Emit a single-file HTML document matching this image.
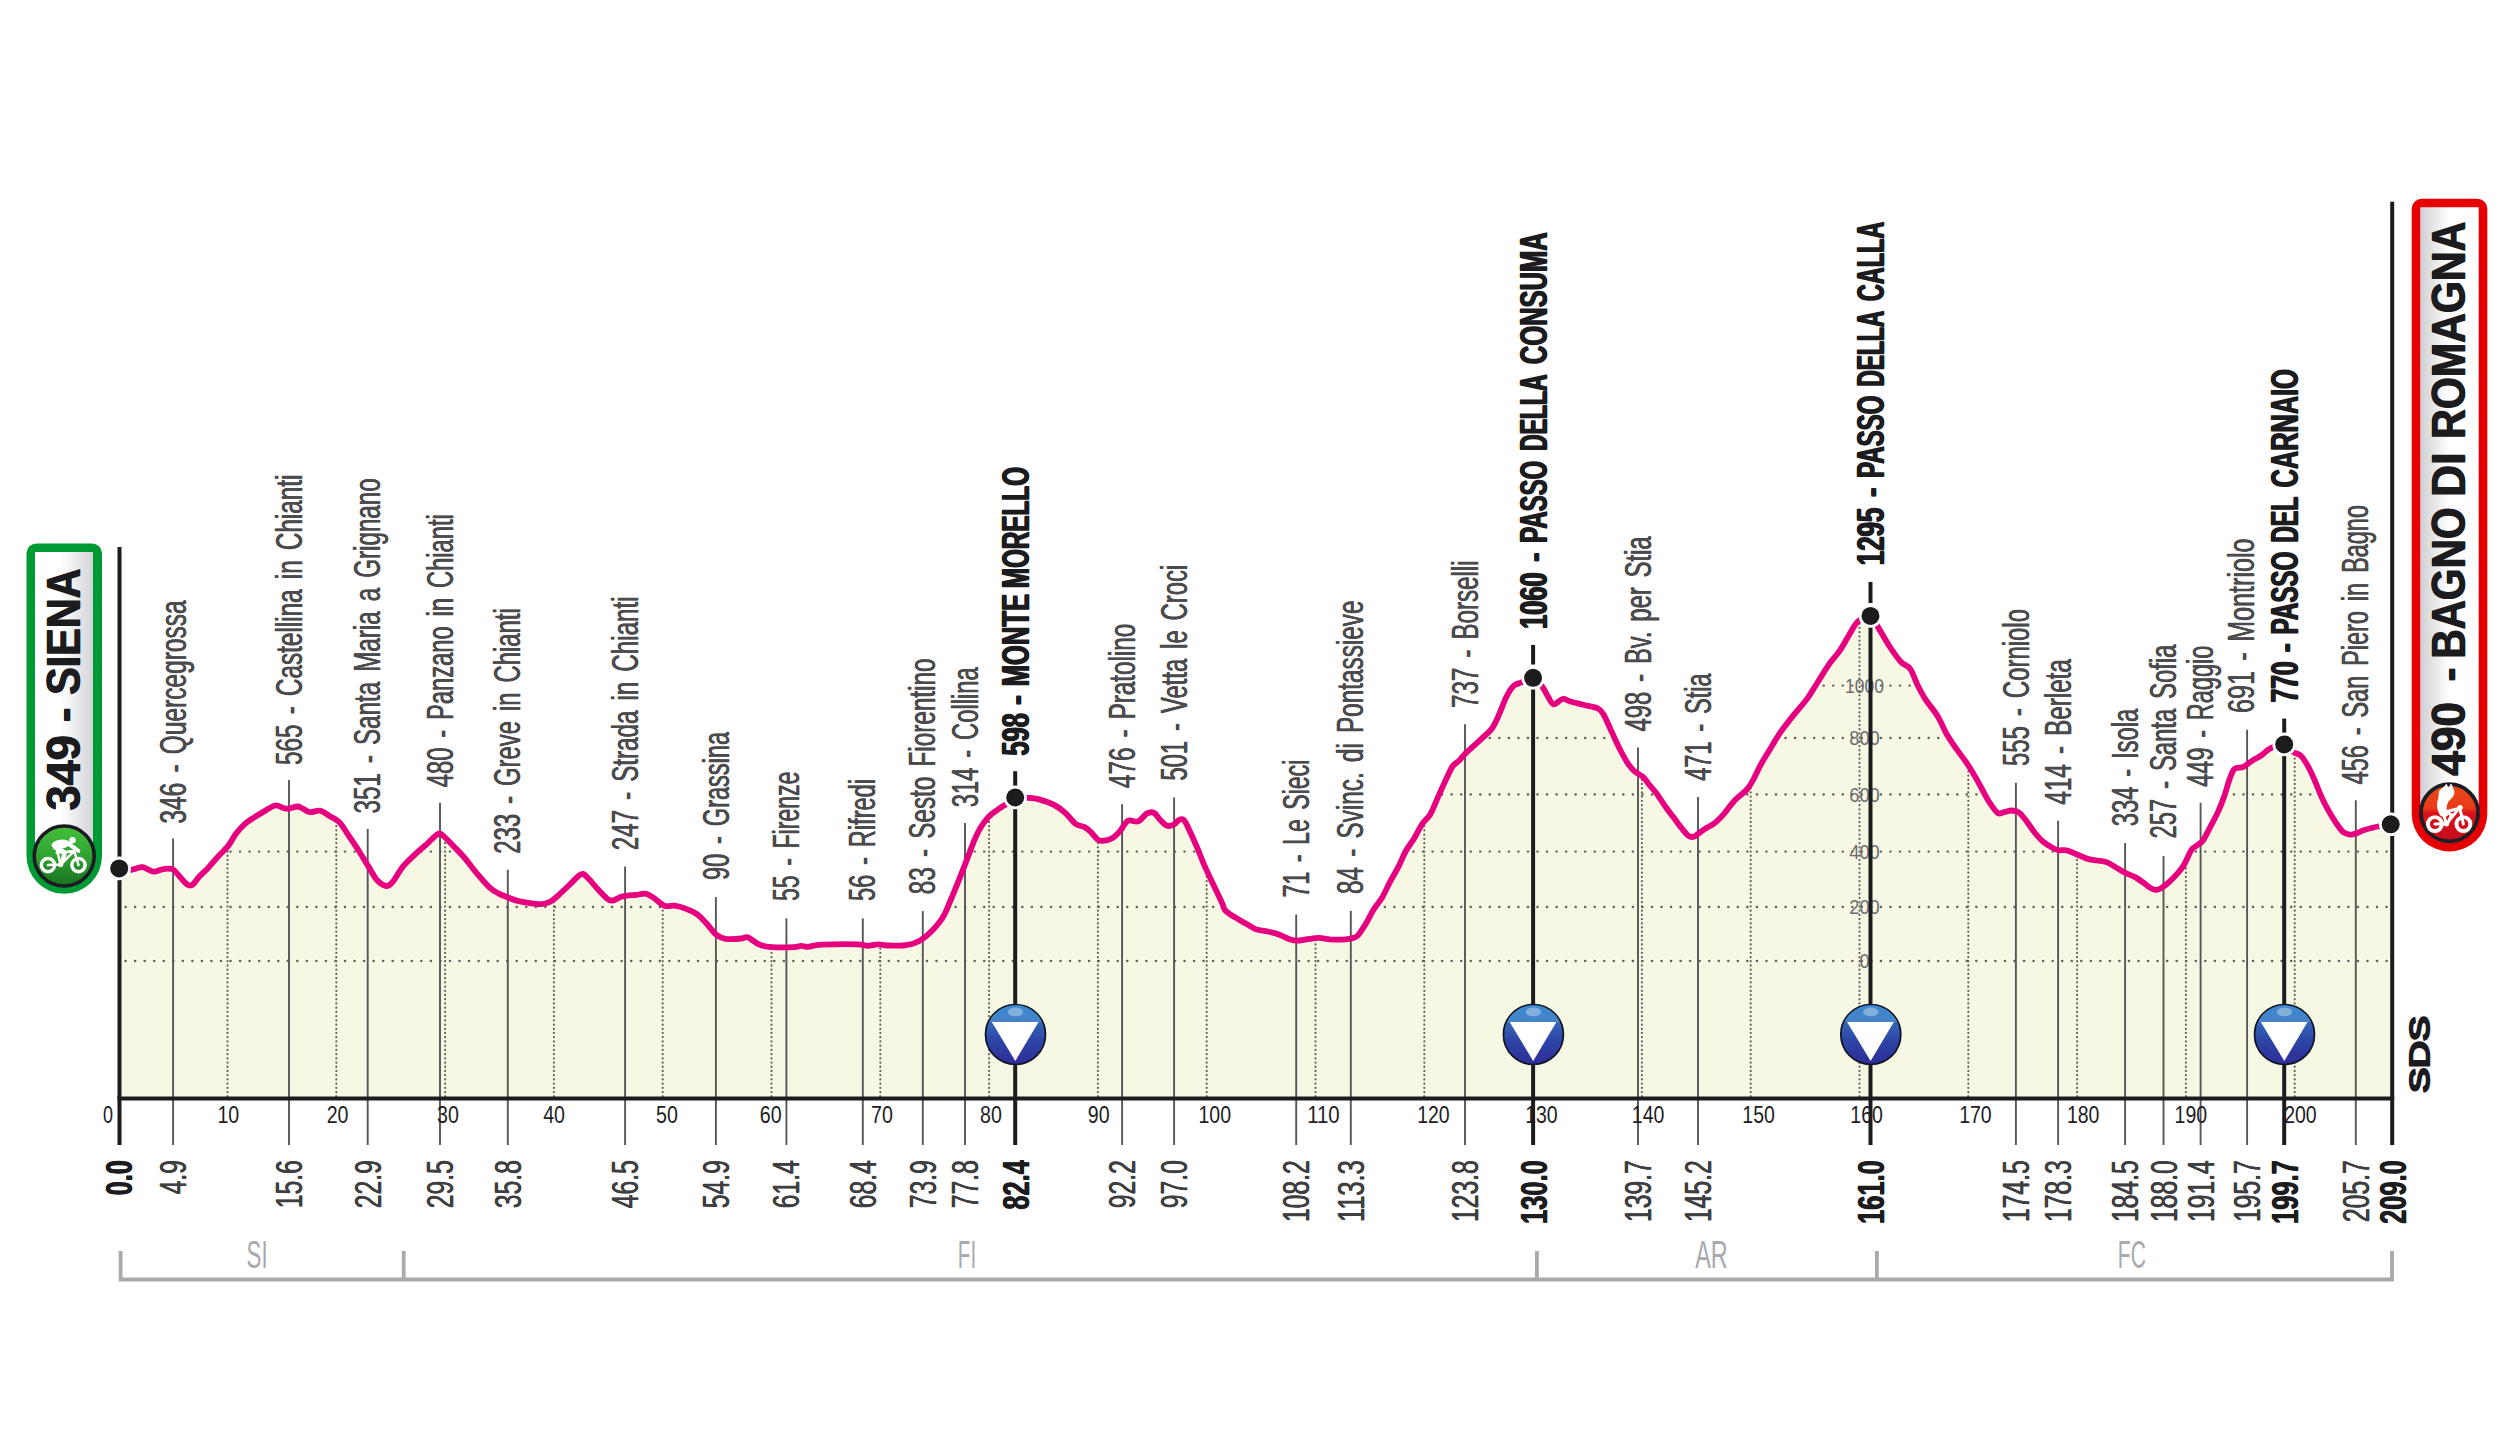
<!DOCTYPE html>
<html lang="it"><head><meta charset="utf-8"><title>Siena - Bagno di Romagna</title>
<style>html,body{margin:0;padding:0;background:#fff}svg{display:block}</style></head>
<body>
<svg width="2513" height="1436" viewBox="0 0 2513 1436" font-family="&quot;Liberation Sans&quot;, sans-serif">
<defs>
<linearGradient id="gL" x1="0" y1="0" x2="1" y2="0"><stop offset="0" stop-color="#fff"/><stop offset=".45" stop-color="#fff"/><stop offset="1" stop-color="#d3d4d9"/></linearGradient>
<linearGradient id="gR" x1="0" y1="0" x2="1" y2="0"><stop offset="0" stop-color="#cfd0d3"/><stop offset=".5" stop-color="#fff"/><stop offset="1" stop-color="#fff"/></linearGradient>
<linearGradient id="gG" x1="0" y1="0" x2="0" y2="1"><stop offset="0" stop-color="#45bf3c"/><stop offset=".5" stop-color="#2fa332"/><stop offset="1" stop-color="#17701f"/></linearGradient>
<linearGradient id="gRd" x1="0" y1="0" x2="0" y2="1"><stop offset="0" stop-color="#ec4818"/><stop offset=".42" stop-color="#e83a17"/><stop offset=".5" stop-color="#da1219"/><stop offset="1" stop-color="#c50d1c"/></linearGradient>
<linearGradient id="gB" x1="0" y1="0" x2="0" y2="1"><stop offset="0" stop-color="#3a7cc6"/><stop offset=".3" stop-color="#3467b8"/><stop offset=".6" stop-color="#2d45a6"/><stop offset="1" stop-color="#2e2c98"/></linearGradient>
<linearGradient id="gBt" x1="0" y1="0" x2="0" y2="1"><stop offset="0" stop-color="#3b88cf"/><stop offset="1" stop-color="#4583c8"/></linearGradient>
<clipPath id="cp"><path d="M119.5,868.4C121.4,868.6 127.2,870.0 131.0,869.8C134.8,869.6 138.8,866.9 142.5,867.2C146.2,867.5 149.8,871.4 153.3,871.7C156.8,872.0 160.3,869.5 163.5,869.1C166.7,868.7 169.8,868.0 172.4,869.1C175.0,870.2 176.5,873.0 178.8,875.5C181.1,878.0 184.2,882.2 186.4,883.8C188.6,885.4 190.0,886.3 192.1,885.1C194.2,883.9 196.4,879.7 199.1,876.8C201.8,873.9 204.9,871.3 208.1,867.9C211.3,864.5 214.8,860.1 218.2,856.4C221.6,852.7 225.4,849.4 228.4,845.6C231.4,841.8 233.3,837.1 236.1,833.5C238.9,829.9 242.0,826.5 245.0,823.9C248.0,821.2 250.5,819.8 253.9,817.6C257.3,815.4 261.8,812.6 265.4,810.6C269.0,808.6 272.5,805.9 275.5,805.5C278.5,805.1 281.0,807.5 283.2,808.0C285.4,808.5 286.6,809.0 288.9,808.7C291.2,808.5 295.0,806.6 297.2,806.5C299.4,806.4 300.2,807.4 302.3,808.3C304.4,809.2 306.9,811.7 309.9,812.1C312.9,812.5 316.9,810.0 320.1,810.6C323.3,811.2 325.8,813.8 329.0,815.7C332.2,817.6 336.0,818.8 339.2,822.0C342.4,825.2 344.9,830.1 348.1,834.8C351.3,839.5 354.9,844.7 358.3,850.0C361.7,855.3 365.3,861.5 368.5,866.6C371.7,871.7 374.4,877.4 377.4,880.6C380.4,883.8 383.8,885.8 386.3,886.0C388.9,886.2 389.9,885.1 392.7,881.9C395.5,878.7 399.1,871.3 402.9,866.6C406.7,861.9 411.5,857.8 415.6,853.9C419.7,850.0 424.0,846.5 427.6,843.3C431.2,840.0 434.8,835.8 437.2,834.4C439.6,833.0 439.6,833.1 442.3,835.0C445.0,836.9 449.4,842.0 453.1,845.8C456.8,849.6 460.6,853.2 464.6,857.9C468.6,862.6 473.1,868.9 477.3,873.9C481.5,878.9 486.4,884.6 490.0,887.9C493.6,891.2 495.9,892.0 498.9,893.6C501.9,895.2 504.9,896.2 507.9,897.4C510.9,898.6 513.4,899.7 516.8,900.6C520.2,901.5 524.2,902.3 528.2,902.9C532.2,903.5 537.4,904.4 541.0,904.2C544.6,904.0 547.1,903.2 549.9,901.9C552.6,900.5 554.1,899.1 557.5,896.1C560.9,893.1 566.9,887.3 570.3,884.0C573.7,880.7 575.8,878.1 577.9,876.4C580.0,874.7 581.1,873.4 583.0,873.9C584.9,874.4 586.9,877.0 589.4,879.6C591.9,882.2 595.3,886.6 598.3,889.8C601.3,893.0 604.9,896.9 607.2,898.7C609.5,900.5 610.0,900.9 612.3,900.6C614.6,900.3 618.5,897.7 621.2,896.8C624.0,895.9 626.2,895.6 628.8,895.3C631.3,895.0 633.7,895.2 636.5,894.9C639.3,894.6 642.6,893.2 645.4,893.6C648.1,894.0 649.8,895.4 653.0,897.4C656.2,899.4 660.9,904.3 664.5,905.7C668.1,907.1 671.1,905.2 674.7,905.7C678.3,906.2 682.3,907.4 686.1,908.9C689.9,910.4 694.2,912.2 697.6,914.6C701.0,917.0 703.3,920.1 706.5,923.5C709.7,926.9 713.5,932.5 716.7,935.0C719.9,937.5 721.5,938.2 725.6,938.8C729.7,939.4 737.8,938.8 741.5,938.5C745.2,938.2 744.8,936.3 747.8,937.3C750.8,938.3 755.3,942.9 759.3,944.5C763.3,946.1 766.3,946.7 772.0,947.1C777.7,947.5 788.8,947.3 793.7,947.1C798.6,946.9 799.0,945.8 801.3,945.8C803.6,945.8 804.3,947.0 807.7,946.8C811.1,946.6 813.4,945.1 821.7,944.7C830.0,944.3 849.7,944.1 857.3,944.3C864.9,944.5 864.1,945.8 867.5,945.8C870.9,945.8 874.3,944.3 877.7,944.3C881.1,944.2 883.6,945.3 887.9,945.5C892.1,945.7 899.0,945.8 903.2,945.5C907.5,945.2 910.2,944.6 913.4,943.6C916.6,942.6 919.1,941.4 922.3,939.2C925.5,937.0 929.1,933.9 932.5,930.3C935.9,926.7 939.7,922.4 942.7,917.5C945.7,912.6 947.5,907.4 950.3,901.0C953.0,894.6 956.2,886.7 959.2,879.3C962.2,871.9 965.6,863.0 968.1,856.4C970.6,849.8 972.4,844.8 974.5,839.9C976.6,835.0 978.6,830.9 980.9,827.1C983.2,823.3 985.8,819.8 988.5,816.9C991.2,814.0 994.6,811.9 997.4,809.9C1000.1,807.9 1002.0,806.8 1005.0,804.8C1008.0,802.8 1011.4,798.8 1015.2,797.6C1019.0,796.4 1024.2,797.5 1028.0,797.8C1031.8,798.0 1033.9,797.9 1038.2,799.1C1042.5,800.3 1049.5,802.5 1054.0,804.8C1058.5,807.1 1061.9,809.9 1065.5,813.1C1069.1,816.3 1072.5,821.6 1075.7,823.9C1078.9,826.2 1082.1,825.7 1084.6,827.1C1087.1,828.5 1088.8,830.2 1090.9,832.2C1093.0,834.2 1095.4,837.8 1097.3,839.2C1099.2,840.7 1099.9,841.1 1102.4,840.9C1105.0,840.7 1109.6,839.6 1112.6,837.9C1115.6,836.2 1117.7,833.8 1120.2,830.9C1122.8,828.0 1124.9,822.3 1127.9,820.7C1130.9,819.1 1134.9,822.6 1138.1,821.4C1141.3,820.2 1144.3,814.8 1147.0,813.4C1149.7,812.0 1151.7,811.7 1154.0,812.9C1156.3,814.1 1158.8,818.6 1161.0,820.7C1163.2,822.9 1165.2,825.1 1167.3,825.8C1169.4,826.4 1171.8,825.5 1173.7,824.6C1175.6,823.7 1177.1,820.9 1178.8,820.1C1180.5,819.4 1182.0,818.1 1183.9,820.1C1185.8,822.1 1188.0,827.3 1190.3,832.2C1192.6,837.1 1195.4,843.5 1197.9,849.4C1200.4,855.3 1202.7,861.6 1205.5,867.9C1208.3,874.2 1211.7,881.2 1214.5,887.0C1217.3,892.8 1220.2,898.9 1222.1,902.9C1224.0,906.9 1223.1,908.5 1225.9,911.2C1228.7,914.0 1234.9,917.1 1238.7,919.4C1242.5,921.7 1245.8,923.5 1248.8,925.2C1251.8,926.9 1253.3,928.6 1256.5,929.6C1259.7,930.6 1264.1,930.6 1267.9,931.5C1271.7,932.4 1275.8,933.4 1279.4,934.7C1283.0,936.0 1286.6,938.2 1289.6,939.2C1292.6,940.2 1294.2,940.7 1297.2,940.7C1300.2,940.7 1303.8,939.7 1307.4,939.2C1311.0,938.7 1315.1,937.9 1318.9,937.9C1322.7,937.9 1325.8,939.1 1330.3,939.4C1334.8,939.6 1342.0,939.6 1345.6,939.4C1349.2,939.2 1349.9,939.0 1352.0,938.3C1354.1,937.6 1355.7,937.9 1358.0,935.4C1360.3,932.9 1363.3,927.8 1366.0,923.4C1368.7,919.0 1371.3,913.3 1374.0,909.0C1376.7,904.7 1379.3,902.3 1382.0,897.8C1384.7,893.3 1387.3,886.9 1390.0,881.8C1392.7,876.7 1395.4,872.6 1398.1,867.4C1400.8,862.2 1403.4,855.3 1406.1,850.5C1408.8,845.7 1411.4,842.9 1414.1,838.5C1416.8,834.1 1419.4,828.1 1422.1,824.1C1424.8,820.1 1427.4,819.0 1430.1,814.5C1432.8,810.0 1435.4,802.8 1438.1,796.9C1440.8,791.0 1443.7,784.4 1446.1,779.3C1448.5,774.2 1450.4,769.6 1452.5,766.5C1454.6,763.4 1456.8,762.9 1458.9,760.8C1461.0,758.6 1462.6,756.3 1465.3,753.6C1468.0,750.9 1472.3,747.2 1474.9,744.8C1477.5,742.4 1478.2,741.9 1481.1,739.1C1484.0,736.3 1489.3,732.2 1492.3,728.0C1495.3,723.8 1496.9,719.2 1499.2,714.1C1501.5,709.0 1503.9,701.9 1506.2,697.3C1508.5,692.6 1510.7,688.7 1513.2,686.2C1515.8,683.7 1518.2,683.7 1521.5,682.3C1524.8,680.9 1529.6,676.9 1533.1,677.7C1536.6,678.5 1539.9,683.7 1542.4,686.9C1544.9,690.1 1546.1,693.8 1548.0,696.7C1549.9,699.6 1551.2,703.9 1553.6,704.3C1556.0,704.7 1559.8,699.5 1562.6,699.0C1565.4,698.5 1566.7,700.5 1570.3,701.5C1573.9,702.5 1579.6,703.8 1584.2,705.0C1588.8,706.2 1594.8,706.9 1598.1,708.5C1601.3,710.1 1601.6,711.3 1603.7,714.8C1605.8,718.3 1608.0,723.9 1610.6,729.4C1613.1,734.9 1616.2,741.9 1619.0,747.5C1621.8,753.1 1624.9,758.8 1627.4,762.8C1630.0,766.8 1631.8,768.9 1634.3,771.2C1636.8,773.5 1640.2,774.4 1642.7,776.7C1645.2,779.0 1647.3,782.3 1649.6,785.1C1651.9,787.9 1654.0,789.9 1656.6,793.4C1659.2,796.9 1662.2,802.0 1665.0,806.0C1667.8,810.0 1670.5,813.4 1673.3,817.1C1676.1,820.8 1679.2,825.2 1681.7,828.3C1684.2,831.4 1686.5,834.5 1688.6,835.9C1690.7,837.3 1691.7,837.6 1694.2,836.6C1696.8,835.6 1700.4,831.9 1703.9,829.6C1707.4,827.3 1711.6,825.5 1715.1,822.7C1718.6,819.9 1721.5,816.6 1724.8,812.9C1728.0,809.2 1730.9,804.3 1734.6,800.4C1738.3,796.5 1743.8,793.0 1747.1,789.3C1750.3,785.6 1751.8,782.3 1754.1,778.1C1756.4,773.9 1758.5,768.8 1761.0,764.2C1763.5,759.6 1766.6,754.9 1769.4,750.3C1772.2,745.6 1775.2,740.2 1777.8,736.3C1780.3,732.3 1782.0,730.2 1784.7,726.6C1787.4,723.0 1790.0,719.6 1793.8,714.9C1797.6,710.1 1803.5,703.7 1807.6,698.1C1811.7,692.5 1814.7,686.8 1818.3,681.2C1821.9,675.6 1825.4,669.4 1829.0,664.3C1832.6,659.2 1836.5,655.5 1839.8,650.6C1843.1,645.8 1845.9,640.1 1848.9,635.2C1852.0,630.3 1854.5,624.6 1858.1,621.4C1861.7,618.2 1866.9,614.4 1870.5,615.8C1874.1,617.2 1876.3,624.6 1879.6,629.9C1882.9,635.2 1886.7,642.1 1890.3,647.5C1893.9,652.9 1897.7,658.4 1901.0,662.0C1904.3,665.6 1907.4,664.9 1910.2,668.9C1913.0,672.9 1915.3,680.7 1917.9,685.8C1920.5,690.9 1922.3,694.5 1925.6,699.6C1928.9,704.7 1934.2,710.5 1937.8,716.4C1941.4,722.3 1943.9,729.4 1947.0,734.8C1950.1,740.2 1952.6,743.5 1956.2,748.6C1959.8,753.7 1964.6,759.6 1968.4,765.5C1972.2,771.4 1975.9,778.0 1979.2,783.9C1982.5,789.8 1985.3,795.9 1988.4,800.7C1991.5,805.5 1995.0,810.9 1997.6,812.8C2000.2,814.7 2001.7,812.5 2004.0,812.1C2006.3,811.7 2009.0,810.4 2011.6,810.5C2014.1,810.6 2016.8,810.9 2019.3,812.8C2021.8,814.7 2024.4,818.4 2026.9,821.7C2029.5,825.0 2031.8,829.1 2034.6,832.5C2037.4,835.9 2040.5,839.6 2043.5,842.1C2046.5,844.6 2049.8,846.4 2052.4,847.8C2055.0,849.2 2056.5,849.9 2058.8,850.3C2061.1,850.7 2063.4,849.6 2066.4,850.3C2069.4,850.9 2073.2,852.8 2076.6,854.2C2080.0,855.6 2083.4,857.6 2086.8,858.6C2090.2,859.6 2093.6,859.9 2097.0,860.5C2100.4,861.1 2103.8,861.1 2107.2,862.4C2110.6,863.7 2114.1,866.4 2117.3,868.2C2120.5,870.0 2123.3,871.8 2126.3,873.3C2129.3,874.8 2132.4,875.6 2135.2,877.1C2137.9,878.6 2140.3,880.4 2142.8,882.2C2145.3,884.0 2148.3,886.6 2150.4,887.9C2152.5,889.2 2153.8,889.7 2155.5,889.8C2157.2,889.9 2158.5,889.7 2160.6,888.5C2162.7,887.3 2165.8,885.0 2168.3,882.8C2170.9,880.6 2173.4,878.1 2175.9,875.2C2178.4,872.3 2181.1,869.8 2183.6,865.6C2186.1,861.5 2189.1,853.6 2191.2,850.3C2193.3,847.0 2194.4,847.5 2196.3,845.9C2198.2,844.3 2200.4,844.0 2202.7,840.8C2205.0,837.6 2207.8,831.6 2210.3,826.8C2212.8,822.0 2215.6,817.2 2217.9,812.1C2220.2,807.0 2222.4,801.6 2224.3,796.2C2226.2,790.8 2227.7,784.3 2229.4,779.7C2231.1,775.1 2232.2,770.9 2234.5,768.8C2236.8,766.7 2240.4,768.3 2243.4,766.9C2246.4,765.5 2249.3,762.5 2252.3,760.6C2255.3,758.7 2258.2,757.5 2261.2,755.5C2264.2,753.5 2266.3,750.4 2270.1,748.5C2273.9,746.6 2280.3,743.7 2284.2,744.3C2288.1,744.9 2290.7,750.4 2293.4,752.2C2296.1,754.0 2298.1,753.3 2300.2,755.1C2302.3,756.9 2303.8,759.0 2306.1,762.9C2308.4,766.8 2311.5,773.1 2313.9,778.5C2316.3,783.9 2318.3,789.7 2320.7,795.1C2323.1,800.5 2325.9,806.0 2328.5,810.7C2331.1,815.4 2333.9,819.7 2336.3,823.3C2338.7,826.9 2340.8,830.2 2343.1,832.1C2345.4,834.0 2347.8,834.4 2349.9,834.6C2352.0,834.9 2353.5,834.3 2355.8,833.6C2358.1,832.9 2360.8,831.2 2363.6,830.2C2366.4,829.2 2369.6,828.4 2372.4,827.7C2375.2,827.0 2377.1,826.7 2380.2,826.1C2383.2,825.5 2388.9,824.6 2390.7,824.3L2392,1098.6L119.5,1098.6Z"/></clipPath>
<clipPath id="kc"><circle r="29.3"/></clipPath>
<g id="kom"><circle r="30" fill="url(#gB)" stroke="#10131f" stroke-width="1.7"/><rect x="-30" y="-30" width="60" height="17.6" fill="url(#gBt)" clip-path="url(#kc)"/><ellipse cx="0" cy="-22.6" rx="7.7" ry="4.4" fill="#8fb6df" opacity=".85"/><polygon points="-23.7,-12.4 23,-12.4 -0.2,26.5" fill="#fff"/></g>
</defs>
<rect width="2513" height="1436" fill="#fff"/>
<path d="M119.5,868.4C121.4,868.6 127.2,870.0 131.0,869.8C134.8,869.6 138.8,866.9 142.5,867.2C146.2,867.5 149.8,871.4 153.3,871.7C156.8,872.0 160.3,869.5 163.5,869.1C166.7,868.7 169.8,868.0 172.4,869.1C175.0,870.2 176.5,873.0 178.8,875.5C181.1,878.0 184.2,882.2 186.4,883.8C188.6,885.4 190.0,886.3 192.1,885.1C194.2,883.9 196.4,879.7 199.1,876.8C201.8,873.9 204.9,871.3 208.1,867.9C211.3,864.5 214.8,860.1 218.2,856.4C221.6,852.7 225.4,849.4 228.4,845.6C231.4,841.8 233.3,837.1 236.1,833.5C238.9,829.9 242.0,826.5 245.0,823.9C248.0,821.2 250.5,819.8 253.9,817.6C257.3,815.4 261.8,812.6 265.4,810.6C269.0,808.6 272.5,805.9 275.5,805.5C278.5,805.1 281.0,807.5 283.2,808.0C285.4,808.5 286.6,809.0 288.9,808.7C291.2,808.5 295.0,806.6 297.2,806.5C299.4,806.4 300.2,807.4 302.3,808.3C304.4,809.2 306.9,811.7 309.9,812.1C312.9,812.5 316.9,810.0 320.1,810.6C323.3,811.2 325.8,813.8 329.0,815.7C332.2,817.6 336.0,818.8 339.2,822.0C342.4,825.2 344.9,830.1 348.1,834.8C351.3,839.5 354.9,844.7 358.3,850.0C361.7,855.3 365.3,861.5 368.5,866.6C371.7,871.7 374.4,877.4 377.4,880.6C380.4,883.8 383.8,885.8 386.3,886.0C388.9,886.2 389.9,885.1 392.7,881.9C395.5,878.7 399.1,871.3 402.9,866.6C406.7,861.9 411.5,857.8 415.6,853.9C419.7,850.0 424.0,846.5 427.6,843.3C431.2,840.0 434.8,835.8 437.2,834.4C439.6,833.0 439.6,833.1 442.3,835.0C445.0,836.9 449.4,842.0 453.1,845.8C456.8,849.6 460.6,853.2 464.6,857.9C468.6,862.6 473.1,868.9 477.3,873.9C481.5,878.9 486.4,884.6 490.0,887.9C493.6,891.2 495.9,892.0 498.9,893.6C501.9,895.2 504.9,896.2 507.9,897.4C510.9,898.6 513.4,899.7 516.8,900.6C520.2,901.5 524.2,902.3 528.2,902.9C532.2,903.5 537.4,904.4 541.0,904.2C544.6,904.0 547.1,903.2 549.9,901.9C552.6,900.5 554.1,899.1 557.5,896.1C560.9,893.1 566.9,887.3 570.3,884.0C573.7,880.7 575.8,878.1 577.9,876.4C580.0,874.7 581.1,873.4 583.0,873.9C584.9,874.4 586.9,877.0 589.4,879.6C591.9,882.2 595.3,886.6 598.3,889.8C601.3,893.0 604.9,896.9 607.2,898.7C609.5,900.5 610.0,900.9 612.3,900.6C614.6,900.3 618.5,897.7 621.2,896.8C624.0,895.9 626.2,895.6 628.8,895.3C631.3,895.0 633.7,895.2 636.5,894.9C639.3,894.6 642.6,893.2 645.4,893.6C648.1,894.0 649.8,895.4 653.0,897.4C656.2,899.4 660.9,904.3 664.5,905.7C668.1,907.1 671.1,905.2 674.7,905.7C678.3,906.2 682.3,907.4 686.1,908.9C689.9,910.4 694.2,912.2 697.6,914.6C701.0,917.0 703.3,920.1 706.5,923.5C709.7,926.9 713.5,932.5 716.7,935.0C719.9,937.5 721.5,938.2 725.6,938.8C729.7,939.4 737.8,938.8 741.5,938.5C745.2,938.2 744.8,936.3 747.8,937.3C750.8,938.3 755.3,942.9 759.3,944.5C763.3,946.1 766.3,946.7 772.0,947.1C777.7,947.5 788.8,947.3 793.7,947.1C798.6,946.9 799.0,945.8 801.3,945.8C803.6,945.8 804.3,947.0 807.7,946.8C811.1,946.6 813.4,945.1 821.7,944.7C830.0,944.3 849.7,944.1 857.3,944.3C864.9,944.5 864.1,945.8 867.5,945.8C870.9,945.8 874.3,944.3 877.7,944.3C881.1,944.2 883.6,945.3 887.9,945.5C892.1,945.7 899.0,945.8 903.2,945.5C907.5,945.2 910.2,944.6 913.4,943.6C916.6,942.6 919.1,941.4 922.3,939.2C925.5,937.0 929.1,933.9 932.5,930.3C935.9,926.7 939.7,922.4 942.7,917.5C945.7,912.6 947.5,907.4 950.3,901.0C953.0,894.6 956.2,886.7 959.2,879.3C962.2,871.9 965.6,863.0 968.1,856.4C970.6,849.8 972.4,844.8 974.5,839.9C976.6,835.0 978.6,830.9 980.9,827.1C983.2,823.3 985.8,819.8 988.5,816.9C991.2,814.0 994.6,811.9 997.4,809.9C1000.1,807.9 1002.0,806.8 1005.0,804.8C1008.0,802.8 1011.4,798.8 1015.2,797.6C1019.0,796.4 1024.2,797.5 1028.0,797.8C1031.8,798.0 1033.9,797.9 1038.2,799.1C1042.5,800.3 1049.5,802.5 1054.0,804.8C1058.5,807.1 1061.9,809.9 1065.5,813.1C1069.1,816.3 1072.5,821.6 1075.7,823.9C1078.9,826.2 1082.1,825.7 1084.6,827.1C1087.1,828.5 1088.8,830.2 1090.9,832.2C1093.0,834.2 1095.4,837.8 1097.3,839.2C1099.2,840.7 1099.9,841.1 1102.4,840.9C1105.0,840.7 1109.6,839.6 1112.6,837.9C1115.6,836.2 1117.7,833.8 1120.2,830.9C1122.8,828.0 1124.9,822.3 1127.9,820.7C1130.9,819.1 1134.9,822.6 1138.1,821.4C1141.3,820.2 1144.3,814.8 1147.0,813.4C1149.7,812.0 1151.7,811.7 1154.0,812.9C1156.3,814.1 1158.8,818.6 1161.0,820.7C1163.2,822.9 1165.2,825.1 1167.3,825.8C1169.4,826.4 1171.8,825.5 1173.7,824.6C1175.6,823.7 1177.1,820.9 1178.8,820.1C1180.5,819.4 1182.0,818.1 1183.9,820.1C1185.8,822.1 1188.0,827.3 1190.3,832.2C1192.6,837.1 1195.4,843.5 1197.9,849.4C1200.4,855.3 1202.7,861.6 1205.5,867.9C1208.3,874.2 1211.7,881.2 1214.5,887.0C1217.3,892.8 1220.2,898.9 1222.1,902.9C1224.0,906.9 1223.1,908.5 1225.9,911.2C1228.7,914.0 1234.9,917.1 1238.7,919.4C1242.5,921.7 1245.8,923.5 1248.8,925.2C1251.8,926.9 1253.3,928.6 1256.5,929.6C1259.7,930.6 1264.1,930.6 1267.9,931.5C1271.7,932.4 1275.8,933.4 1279.4,934.7C1283.0,936.0 1286.6,938.2 1289.6,939.2C1292.6,940.2 1294.2,940.7 1297.2,940.7C1300.2,940.7 1303.8,939.7 1307.4,939.2C1311.0,938.7 1315.1,937.9 1318.9,937.9C1322.7,937.9 1325.8,939.1 1330.3,939.4C1334.8,939.6 1342.0,939.6 1345.6,939.4C1349.2,939.2 1349.9,939.0 1352.0,938.3C1354.1,937.6 1355.7,937.9 1358.0,935.4C1360.3,932.9 1363.3,927.8 1366.0,923.4C1368.7,919.0 1371.3,913.3 1374.0,909.0C1376.7,904.7 1379.3,902.3 1382.0,897.8C1384.7,893.3 1387.3,886.9 1390.0,881.8C1392.7,876.7 1395.4,872.6 1398.1,867.4C1400.8,862.2 1403.4,855.3 1406.1,850.5C1408.8,845.7 1411.4,842.9 1414.1,838.5C1416.8,834.1 1419.4,828.1 1422.1,824.1C1424.8,820.1 1427.4,819.0 1430.1,814.5C1432.8,810.0 1435.4,802.8 1438.1,796.9C1440.8,791.0 1443.7,784.4 1446.1,779.3C1448.5,774.2 1450.4,769.6 1452.5,766.5C1454.6,763.4 1456.8,762.9 1458.9,760.8C1461.0,758.6 1462.6,756.3 1465.3,753.6C1468.0,750.9 1472.3,747.2 1474.9,744.8C1477.5,742.4 1478.2,741.9 1481.1,739.1C1484.0,736.3 1489.3,732.2 1492.3,728.0C1495.3,723.8 1496.9,719.2 1499.2,714.1C1501.5,709.0 1503.9,701.9 1506.2,697.3C1508.5,692.6 1510.7,688.7 1513.2,686.2C1515.8,683.7 1518.2,683.7 1521.5,682.3C1524.8,680.9 1529.6,676.9 1533.1,677.7C1536.6,678.5 1539.9,683.7 1542.4,686.9C1544.9,690.1 1546.1,693.8 1548.0,696.7C1549.9,699.6 1551.2,703.9 1553.6,704.3C1556.0,704.7 1559.8,699.5 1562.6,699.0C1565.4,698.5 1566.7,700.5 1570.3,701.5C1573.9,702.5 1579.6,703.8 1584.2,705.0C1588.8,706.2 1594.8,706.9 1598.1,708.5C1601.3,710.1 1601.6,711.3 1603.7,714.8C1605.8,718.3 1608.0,723.9 1610.6,729.4C1613.1,734.9 1616.2,741.9 1619.0,747.5C1621.8,753.1 1624.9,758.8 1627.4,762.8C1630.0,766.8 1631.8,768.9 1634.3,771.2C1636.8,773.5 1640.2,774.4 1642.7,776.7C1645.2,779.0 1647.3,782.3 1649.6,785.1C1651.9,787.9 1654.0,789.9 1656.6,793.4C1659.2,796.9 1662.2,802.0 1665.0,806.0C1667.8,810.0 1670.5,813.4 1673.3,817.1C1676.1,820.8 1679.2,825.2 1681.7,828.3C1684.2,831.4 1686.5,834.5 1688.6,835.9C1690.7,837.3 1691.7,837.6 1694.2,836.6C1696.8,835.6 1700.4,831.9 1703.9,829.6C1707.4,827.3 1711.6,825.5 1715.1,822.7C1718.6,819.9 1721.5,816.6 1724.8,812.9C1728.0,809.2 1730.9,804.3 1734.6,800.4C1738.3,796.5 1743.8,793.0 1747.1,789.3C1750.3,785.6 1751.8,782.3 1754.1,778.1C1756.4,773.9 1758.5,768.8 1761.0,764.2C1763.5,759.6 1766.6,754.9 1769.4,750.3C1772.2,745.6 1775.2,740.2 1777.8,736.3C1780.3,732.3 1782.0,730.2 1784.7,726.6C1787.4,723.0 1790.0,719.6 1793.8,714.9C1797.6,710.1 1803.5,703.7 1807.6,698.1C1811.7,692.5 1814.7,686.8 1818.3,681.2C1821.9,675.6 1825.4,669.4 1829.0,664.3C1832.6,659.2 1836.5,655.5 1839.8,650.6C1843.1,645.8 1845.9,640.1 1848.9,635.2C1852.0,630.3 1854.5,624.6 1858.1,621.4C1861.7,618.2 1866.9,614.4 1870.5,615.8C1874.1,617.2 1876.3,624.6 1879.6,629.9C1882.9,635.2 1886.7,642.1 1890.3,647.5C1893.9,652.9 1897.7,658.4 1901.0,662.0C1904.3,665.6 1907.4,664.9 1910.2,668.9C1913.0,672.9 1915.3,680.7 1917.9,685.8C1920.5,690.9 1922.3,694.5 1925.6,699.6C1928.9,704.7 1934.2,710.5 1937.8,716.4C1941.4,722.3 1943.9,729.4 1947.0,734.8C1950.1,740.2 1952.6,743.5 1956.2,748.6C1959.8,753.7 1964.6,759.6 1968.4,765.5C1972.2,771.4 1975.9,778.0 1979.2,783.9C1982.5,789.8 1985.3,795.9 1988.4,800.7C1991.5,805.5 1995.0,810.9 1997.6,812.8C2000.2,814.7 2001.7,812.5 2004.0,812.1C2006.3,811.7 2009.0,810.4 2011.6,810.5C2014.1,810.6 2016.8,810.9 2019.3,812.8C2021.8,814.7 2024.4,818.4 2026.9,821.7C2029.5,825.0 2031.8,829.1 2034.6,832.5C2037.4,835.9 2040.5,839.6 2043.5,842.1C2046.5,844.6 2049.8,846.4 2052.4,847.8C2055.0,849.2 2056.5,849.9 2058.8,850.3C2061.1,850.7 2063.4,849.6 2066.4,850.3C2069.4,850.9 2073.2,852.8 2076.6,854.2C2080.0,855.6 2083.4,857.6 2086.8,858.6C2090.2,859.6 2093.6,859.9 2097.0,860.5C2100.4,861.1 2103.8,861.1 2107.2,862.4C2110.6,863.7 2114.1,866.4 2117.3,868.2C2120.5,870.0 2123.3,871.8 2126.3,873.3C2129.3,874.8 2132.4,875.6 2135.2,877.1C2137.9,878.6 2140.3,880.4 2142.8,882.2C2145.3,884.0 2148.3,886.6 2150.4,887.9C2152.5,889.2 2153.8,889.7 2155.5,889.8C2157.2,889.9 2158.5,889.7 2160.6,888.5C2162.7,887.3 2165.8,885.0 2168.3,882.8C2170.9,880.6 2173.4,878.1 2175.9,875.2C2178.4,872.3 2181.1,869.8 2183.6,865.6C2186.1,861.5 2189.1,853.6 2191.2,850.3C2193.3,847.0 2194.4,847.5 2196.3,845.9C2198.2,844.3 2200.4,844.0 2202.7,840.8C2205.0,837.6 2207.8,831.6 2210.3,826.8C2212.8,822.0 2215.6,817.2 2217.9,812.1C2220.2,807.0 2222.4,801.6 2224.3,796.2C2226.2,790.8 2227.7,784.3 2229.4,779.7C2231.1,775.1 2232.2,770.9 2234.5,768.8C2236.8,766.7 2240.4,768.3 2243.4,766.9C2246.4,765.5 2249.3,762.5 2252.3,760.6C2255.3,758.7 2258.2,757.5 2261.2,755.5C2264.2,753.5 2266.3,750.4 2270.1,748.5C2273.9,746.6 2280.3,743.7 2284.2,744.3C2288.1,744.9 2290.7,750.4 2293.4,752.2C2296.1,754.0 2298.1,753.3 2300.2,755.1C2302.3,756.9 2303.8,759.0 2306.1,762.9C2308.4,766.8 2311.5,773.1 2313.9,778.5C2316.3,783.9 2318.3,789.7 2320.7,795.1C2323.1,800.5 2325.9,806.0 2328.5,810.7C2331.1,815.4 2333.9,819.7 2336.3,823.3C2338.7,826.9 2340.8,830.2 2343.1,832.1C2345.4,834.0 2347.8,834.4 2349.9,834.6C2352.0,834.9 2353.5,834.3 2355.8,833.6C2358.1,832.9 2360.8,831.2 2363.6,830.2C2366.4,829.2 2369.6,828.4 2372.4,827.7C2375.2,827.0 2377.1,826.7 2380.2,826.1C2383.2,825.5 2388.9,824.6 2390.7,824.3L2392,1098.6L119.5,1098.6Z" fill="#f7f8e4"/>
<g clip-path="url(#cp)" stroke="#606058" fill="none" stroke-linecap="round">
<line x1="115.9" y1="961" x2="2392" y2="961" stroke-width="2.3" stroke-dasharray="0.3 9.24"/>
<line x1="115.9" y1="907" x2="2392" y2="907" stroke-width="2.3" stroke-dasharray="0.3 9.24"/>
<line x1="115.9" y1="851.6" x2="2392" y2="851.6" stroke-width="2.3" stroke-dasharray="0.3 9.24"/>
<line x1="115.9" y1="794.5" x2="2392" y2="794.5" stroke-width="2.3" stroke-dasharray="0.3 9.24"/>
<line x1="115.9" y1="738" x2="2392" y2="738" stroke-width="2.3" stroke-dasharray="0.3 9.24"/>
<line x1="115.9" y1="685.6" x2="2392" y2="685.6" stroke-width="2.3" stroke-dasharray="0.3 9.24"/>
<line x1="227.5" y1="1096.3999999999999" x2="227.5" y2="560" stroke-width="2.1" stroke-dasharray="0.2 4.02"/>
<line x1="336.3" y1="1096.3999999999999" x2="336.3" y2="560" stroke-width="2.1" stroke-dasharray="0.2 4.02"/>
<line x1="445.1" y1="1096.3999999999999" x2="445.1" y2="560" stroke-width="2.1" stroke-dasharray="0.2 4.02"/>
<line x1="553.9" y1="1096.3999999999999" x2="553.9" y2="560" stroke-width="2.1" stroke-dasharray="0.2 4.02"/>
<line x1="662.7" y1="1096.3999999999999" x2="662.7" y2="560" stroke-width="2.1" stroke-dasharray="0.2 4.02"/>
<line x1="771.5" y1="1096.3999999999999" x2="771.5" y2="560" stroke-width="2.1" stroke-dasharray="0.2 4.02"/>
<line x1="880.3" y1="1096.3999999999999" x2="880.3" y2="560" stroke-width="2.1" stroke-dasharray="0.2 4.02"/>
<line x1="989.1" y1="1096.3999999999999" x2="989.1" y2="560" stroke-width="2.1" stroke-dasharray="0.2 4.02"/>
<line x1="1097.9" y1="1096.3999999999999" x2="1097.9" y2="560" stroke-width="2.1" stroke-dasharray="0.2 4.02"/>
<line x1="1206.7" y1="1096.3999999999999" x2="1206.7" y2="560" stroke-width="2.1" stroke-dasharray="0.2 4.02"/>
<line x1="1315.5" y1="1096.3999999999999" x2="1315.5" y2="560" stroke-width="2.1" stroke-dasharray="0.2 4.02"/>
<line x1="1424.3" y1="1096.3999999999999" x2="1424.3" y2="560" stroke-width="2.1" stroke-dasharray="0.2 4.02"/>
<line x1="1533.1" y1="1096.3999999999999" x2="1533.1" y2="560" stroke-width="2.1" stroke-dasharray="0.2 4.02"/>
<line x1="1641.9" y1="1096.3999999999999" x2="1641.9" y2="560" stroke-width="2.1" stroke-dasharray="0.2 4.02"/>
<line x1="1750.7" y1="1096.3999999999999" x2="1750.7" y2="560" stroke-width="2.1" stroke-dasharray="0.2 4.02"/>
<line x1="1859.5" y1="1096.3999999999999" x2="1859.5" y2="560" stroke-width="2.1" stroke-dasharray="0.2 4.02"/>
<line x1="1968.3" y1="1096.3999999999999" x2="1968.3" y2="560" stroke-width="2.1" stroke-dasharray="0.2 4.02"/>
<line x1="2077.1" y1="1096.3999999999999" x2="2077.1" y2="560" stroke-width="2.1" stroke-dasharray="0.2 4.02"/>
<line x1="2185.9" y1="1096.3999999999999" x2="2185.9" y2="560" stroke-width="2.1" stroke-dasharray="0.2 4.02"/>
<line x1="2294.7" y1="1096.3999999999999" x2="2294.7" y2="560" stroke-width="2.1" stroke-dasharray="0.2 4.02"/>
</g>
<text x="1859.6" y="968.2" font-size="20.4" fill="#6c6c70" textLength="10.0" lengthAdjust="spacingAndGlyphs">0</text>
<text x="1849.3" y="914.2" font-size="20.4" fill="#6c6c70" textLength="30.5" lengthAdjust="spacingAndGlyphs">200</text>
<text x="1849.3" y="858.8" font-size="20.4" fill="#6c6c70" textLength="30.5" lengthAdjust="spacingAndGlyphs">400</text>
<text x="1849.3" y="801.7" font-size="20.4" fill="#6c6c70" textLength="30.5" lengthAdjust="spacingAndGlyphs">600</text>
<text x="1849.3" y="745.2" font-size="20.4" fill="#6c6c70" textLength="30.5" lengthAdjust="spacingAndGlyphs">800</text>
<text x="1845.1" y="692.8" font-size="20.4" fill="#6c6c70" textLength="39" lengthAdjust="spacingAndGlyphs">1000</text>
<g stroke="#565658" stroke-width="1.9">
<line x1="173.1" y1="838.5" x2="173.1" y2="1145"/>
<line x1="289" y1="780.1" x2="289" y2="1145"/>
<line x1="367.7" y1="829.1" x2="367.7" y2="1145"/>
<line x1="440" y1="802.8" x2="440" y2="1145"/>
<line x1="507.8" y1="869.7" x2="507.8" y2="1145"/>
<line x1="625.1" y1="866.4" x2="625.1" y2="1145"/>
<line x1="715.9" y1="897.1" x2="715.9" y2="1145"/>
<line x1="786.4" y1="918.3" x2="786.4" y2="1145"/>
<line x1="862.8" y1="918.3" x2="862.8" y2="1145"/>
<line x1="922.8" y1="911.1" x2="922.8" y2="1145"/>
<line x1="965" y1="822.9" x2="965" y2="1145"/>
<line x1="1122.1" y1="804.2" x2="1122.1" y2="1145"/>
<line x1="1174.1" y1="797.5" x2="1174.1" y2="1145"/>
<line x1="1296.2" y1="914.5" x2="1296.2" y2="1145"/>
<line x1="1350.8" y1="910.8" x2="1350.8" y2="1145"/>
<line x1="1465" y1="724.2" x2="1465" y2="1145"/>
<line x1="1638" y1="747.4" x2="1638" y2="1145"/>
<line x1="1698" y1="797.1" x2="1698" y2="1145"/>
<line x1="2015.9" y1="782.8" x2="2015.9" y2="1145"/>
<line x1="2058.1" y1="820.7" x2="2058.1" y2="1145"/>
<line x1="2125.1" y1="843" x2="2125.1" y2="1145"/>
<line x1="2163.5" y1="855.9" x2="2163.5" y2="1145"/>
<line x1="2200.6" y1="802.8" x2="2200.6" y2="1145"/>
<line x1="2247.1" y1="729.8" x2="2247.1" y2="1145"/>
<line x1="2355.8" y1="800.3" x2="2355.8" y2="1145"/>
</g>
<path d="M119.5,868.4C121.4,868.6 127.2,870.0 131.0,869.8C134.8,869.6 138.8,866.9 142.5,867.2C146.2,867.5 149.8,871.4 153.3,871.7C156.8,872.0 160.3,869.5 163.5,869.1C166.7,868.7 169.8,868.0 172.4,869.1C175.0,870.2 176.5,873.0 178.8,875.5C181.1,878.0 184.2,882.2 186.4,883.8C188.6,885.4 190.0,886.3 192.1,885.1C194.2,883.9 196.4,879.7 199.1,876.8C201.8,873.9 204.9,871.3 208.1,867.9C211.3,864.5 214.8,860.1 218.2,856.4C221.6,852.7 225.4,849.4 228.4,845.6C231.4,841.8 233.3,837.1 236.1,833.5C238.9,829.9 242.0,826.5 245.0,823.9C248.0,821.2 250.5,819.8 253.9,817.6C257.3,815.4 261.8,812.6 265.4,810.6C269.0,808.6 272.5,805.9 275.5,805.5C278.5,805.1 281.0,807.5 283.2,808.0C285.4,808.5 286.6,809.0 288.9,808.7C291.2,808.5 295.0,806.6 297.2,806.5C299.4,806.4 300.2,807.4 302.3,808.3C304.4,809.2 306.9,811.7 309.9,812.1C312.9,812.5 316.9,810.0 320.1,810.6C323.3,811.2 325.8,813.8 329.0,815.7C332.2,817.6 336.0,818.8 339.2,822.0C342.4,825.2 344.9,830.1 348.1,834.8C351.3,839.5 354.9,844.7 358.3,850.0C361.7,855.3 365.3,861.5 368.5,866.6C371.7,871.7 374.4,877.4 377.4,880.6C380.4,883.8 383.8,885.8 386.3,886.0C388.9,886.2 389.9,885.1 392.7,881.9C395.5,878.7 399.1,871.3 402.9,866.6C406.7,861.9 411.5,857.8 415.6,853.9C419.7,850.0 424.0,846.5 427.6,843.3C431.2,840.0 434.8,835.8 437.2,834.4C439.6,833.0 439.6,833.1 442.3,835.0C445.0,836.9 449.4,842.0 453.1,845.8C456.8,849.6 460.6,853.2 464.6,857.9C468.6,862.6 473.1,868.9 477.3,873.9C481.5,878.9 486.4,884.6 490.0,887.9C493.6,891.2 495.9,892.0 498.9,893.6C501.9,895.2 504.9,896.2 507.9,897.4C510.9,898.6 513.4,899.7 516.8,900.6C520.2,901.5 524.2,902.3 528.2,902.9C532.2,903.5 537.4,904.4 541.0,904.2C544.6,904.0 547.1,903.2 549.9,901.9C552.6,900.5 554.1,899.1 557.5,896.1C560.9,893.1 566.9,887.3 570.3,884.0C573.7,880.7 575.8,878.1 577.9,876.4C580.0,874.7 581.1,873.4 583.0,873.9C584.9,874.4 586.9,877.0 589.4,879.6C591.9,882.2 595.3,886.6 598.3,889.8C601.3,893.0 604.9,896.9 607.2,898.7C609.5,900.5 610.0,900.9 612.3,900.6C614.6,900.3 618.5,897.7 621.2,896.8C624.0,895.9 626.2,895.6 628.8,895.3C631.3,895.0 633.7,895.2 636.5,894.9C639.3,894.6 642.6,893.2 645.4,893.6C648.1,894.0 649.8,895.4 653.0,897.4C656.2,899.4 660.9,904.3 664.5,905.7C668.1,907.1 671.1,905.2 674.7,905.7C678.3,906.2 682.3,907.4 686.1,908.9C689.9,910.4 694.2,912.2 697.6,914.6C701.0,917.0 703.3,920.1 706.5,923.5C709.7,926.9 713.5,932.5 716.7,935.0C719.9,937.5 721.5,938.2 725.6,938.8C729.7,939.4 737.8,938.8 741.5,938.5C745.2,938.2 744.8,936.3 747.8,937.3C750.8,938.3 755.3,942.9 759.3,944.5C763.3,946.1 766.3,946.7 772.0,947.1C777.7,947.5 788.8,947.3 793.7,947.1C798.6,946.9 799.0,945.8 801.3,945.8C803.6,945.8 804.3,947.0 807.7,946.8C811.1,946.6 813.4,945.1 821.7,944.7C830.0,944.3 849.7,944.1 857.3,944.3C864.9,944.5 864.1,945.8 867.5,945.8C870.9,945.8 874.3,944.3 877.7,944.3C881.1,944.2 883.6,945.3 887.9,945.5C892.1,945.7 899.0,945.8 903.2,945.5C907.5,945.2 910.2,944.6 913.4,943.6C916.6,942.6 919.1,941.4 922.3,939.2C925.5,937.0 929.1,933.9 932.5,930.3C935.9,926.7 939.7,922.4 942.7,917.5C945.7,912.6 947.5,907.4 950.3,901.0C953.0,894.6 956.2,886.7 959.2,879.3C962.2,871.9 965.6,863.0 968.1,856.4C970.6,849.8 972.4,844.8 974.5,839.9C976.6,835.0 978.6,830.9 980.9,827.1C983.2,823.3 985.8,819.8 988.5,816.9C991.2,814.0 994.6,811.9 997.4,809.9C1000.1,807.9 1002.0,806.8 1005.0,804.8C1008.0,802.8 1011.4,798.8 1015.2,797.6C1019.0,796.4 1024.2,797.5 1028.0,797.8C1031.8,798.0 1033.9,797.9 1038.2,799.1C1042.5,800.3 1049.5,802.5 1054.0,804.8C1058.5,807.1 1061.9,809.9 1065.5,813.1C1069.1,816.3 1072.5,821.6 1075.7,823.9C1078.9,826.2 1082.1,825.7 1084.6,827.1C1087.1,828.5 1088.8,830.2 1090.9,832.2C1093.0,834.2 1095.4,837.8 1097.3,839.2C1099.2,840.7 1099.9,841.1 1102.4,840.9C1105.0,840.7 1109.6,839.6 1112.6,837.9C1115.6,836.2 1117.7,833.8 1120.2,830.9C1122.8,828.0 1124.9,822.3 1127.9,820.7C1130.9,819.1 1134.9,822.6 1138.1,821.4C1141.3,820.2 1144.3,814.8 1147.0,813.4C1149.7,812.0 1151.7,811.7 1154.0,812.9C1156.3,814.1 1158.8,818.6 1161.0,820.7C1163.2,822.9 1165.2,825.1 1167.3,825.8C1169.4,826.4 1171.8,825.5 1173.7,824.6C1175.6,823.7 1177.1,820.9 1178.8,820.1C1180.5,819.4 1182.0,818.1 1183.9,820.1C1185.8,822.1 1188.0,827.3 1190.3,832.2C1192.6,837.1 1195.4,843.5 1197.9,849.4C1200.4,855.3 1202.7,861.6 1205.5,867.9C1208.3,874.2 1211.7,881.2 1214.5,887.0C1217.3,892.8 1220.2,898.9 1222.1,902.9C1224.0,906.9 1223.1,908.5 1225.9,911.2C1228.7,914.0 1234.9,917.1 1238.7,919.4C1242.5,921.7 1245.8,923.5 1248.8,925.2C1251.8,926.9 1253.3,928.6 1256.5,929.6C1259.7,930.6 1264.1,930.6 1267.9,931.5C1271.7,932.4 1275.8,933.4 1279.4,934.7C1283.0,936.0 1286.6,938.2 1289.6,939.2C1292.6,940.2 1294.2,940.7 1297.2,940.7C1300.2,940.7 1303.8,939.7 1307.4,939.2C1311.0,938.7 1315.1,937.9 1318.9,937.9C1322.7,937.9 1325.8,939.1 1330.3,939.4C1334.8,939.6 1342.0,939.6 1345.6,939.4C1349.2,939.2 1349.9,939.0 1352.0,938.3C1354.1,937.6 1355.7,937.9 1358.0,935.4C1360.3,932.9 1363.3,927.8 1366.0,923.4C1368.7,919.0 1371.3,913.3 1374.0,909.0C1376.7,904.7 1379.3,902.3 1382.0,897.8C1384.7,893.3 1387.3,886.9 1390.0,881.8C1392.7,876.7 1395.4,872.6 1398.1,867.4C1400.8,862.2 1403.4,855.3 1406.1,850.5C1408.8,845.7 1411.4,842.9 1414.1,838.5C1416.8,834.1 1419.4,828.1 1422.1,824.1C1424.8,820.1 1427.4,819.0 1430.1,814.5C1432.8,810.0 1435.4,802.8 1438.1,796.9C1440.8,791.0 1443.7,784.4 1446.1,779.3C1448.5,774.2 1450.4,769.6 1452.5,766.5C1454.6,763.4 1456.8,762.9 1458.9,760.8C1461.0,758.6 1462.6,756.3 1465.3,753.6C1468.0,750.9 1472.3,747.2 1474.9,744.8C1477.5,742.4 1478.2,741.9 1481.1,739.1C1484.0,736.3 1489.3,732.2 1492.3,728.0C1495.3,723.8 1496.9,719.2 1499.2,714.1C1501.5,709.0 1503.9,701.9 1506.2,697.3C1508.5,692.6 1510.7,688.7 1513.2,686.2C1515.8,683.7 1518.2,683.7 1521.5,682.3C1524.8,680.9 1529.6,676.9 1533.1,677.7C1536.6,678.5 1539.9,683.7 1542.4,686.9C1544.9,690.1 1546.1,693.8 1548.0,696.7C1549.9,699.6 1551.2,703.9 1553.6,704.3C1556.0,704.7 1559.8,699.5 1562.6,699.0C1565.4,698.5 1566.7,700.5 1570.3,701.5C1573.9,702.5 1579.6,703.8 1584.2,705.0C1588.8,706.2 1594.8,706.9 1598.1,708.5C1601.3,710.1 1601.6,711.3 1603.7,714.8C1605.8,718.3 1608.0,723.9 1610.6,729.4C1613.1,734.9 1616.2,741.9 1619.0,747.5C1621.8,753.1 1624.9,758.8 1627.4,762.8C1630.0,766.8 1631.8,768.9 1634.3,771.2C1636.8,773.5 1640.2,774.4 1642.7,776.7C1645.2,779.0 1647.3,782.3 1649.6,785.1C1651.9,787.9 1654.0,789.9 1656.6,793.4C1659.2,796.9 1662.2,802.0 1665.0,806.0C1667.8,810.0 1670.5,813.4 1673.3,817.1C1676.1,820.8 1679.2,825.2 1681.7,828.3C1684.2,831.4 1686.5,834.5 1688.6,835.9C1690.7,837.3 1691.7,837.6 1694.2,836.6C1696.8,835.6 1700.4,831.9 1703.9,829.6C1707.4,827.3 1711.6,825.5 1715.1,822.7C1718.6,819.9 1721.5,816.6 1724.8,812.9C1728.0,809.2 1730.9,804.3 1734.6,800.4C1738.3,796.5 1743.8,793.0 1747.1,789.3C1750.3,785.6 1751.8,782.3 1754.1,778.1C1756.4,773.9 1758.5,768.8 1761.0,764.2C1763.5,759.6 1766.6,754.9 1769.4,750.3C1772.2,745.6 1775.2,740.2 1777.8,736.3C1780.3,732.3 1782.0,730.2 1784.7,726.6C1787.4,723.0 1790.0,719.6 1793.8,714.9C1797.6,710.1 1803.5,703.7 1807.6,698.1C1811.7,692.5 1814.7,686.8 1818.3,681.2C1821.9,675.6 1825.4,669.4 1829.0,664.3C1832.6,659.2 1836.5,655.5 1839.8,650.6C1843.1,645.8 1845.9,640.1 1848.9,635.2C1852.0,630.3 1854.5,624.6 1858.1,621.4C1861.7,618.2 1866.9,614.4 1870.5,615.8C1874.1,617.2 1876.3,624.6 1879.6,629.9C1882.9,635.2 1886.7,642.1 1890.3,647.5C1893.9,652.9 1897.7,658.4 1901.0,662.0C1904.3,665.6 1907.4,664.9 1910.2,668.9C1913.0,672.9 1915.3,680.7 1917.9,685.8C1920.5,690.9 1922.3,694.5 1925.6,699.6C1928.9,704.7 1934.2,710.5 1937.8,716.4C1941.4,722.3 1943.9,729.4 1947.0,734.8C1950.1,740.2 1952.6,743.5 1956.2,748.6C1959.8,753.7 1964.6,759.6 1968.4,765.5C1972.2,771.4 1975.9,778.0 1979.2,783.9C1982.5,789.8 1985.3,795.9 1988.4,800.7C1991.5,805.5 1995.0,810.9 1997.6,812.8C2000.2,814.7 2001.7,812.5 2004.0,812.1C2006.3,811.7 2009.0,810.4 2011.6,810.5C2014.1,810.6 2016.8,810.9 2019.3,812.8C2021.8,814.7 2024.4,818.4 2026.9,821.7C2029.5,825.0 2031.8,829.1 2034.6,832.5C2037.4,835.9 2040.5,839.6 2043.5,842.1C2046.5,844.6 2049.8,846.4 2052.4,847.8C2055.0,849.2 2056.5,849.9 2058.8,850.3C2061.1,850.7 2063.4,849.6 2066.4,850.3C2069.4,850.9 2073.2,852.8 2076.6,854.2C2080.0,855.6 2083.4,857.6 2086.8,858.6C2090.2,859.6 2093.6,859.9 2097.0,860.5C2100.4,861.1 2103.8,861.1 2107.2,862.4C2110.6,863.7 2114.1,866.4 2117.3,868.2C2120.5,870.0 2123.3,871.8 2126.3,873.3C2129.3,874.8 2132.4,875.6 2135.2,877.1C2137.9,878.6 2140.3,880.4 2142.8,882.2C2145.3,884.0 2148.3,886.6 2150.4,887.9C2152.5,889.2 2153.8,889.7 2155.5,889.8C2157.2,889.9 2158.5,889.7 2160.6,888.5C2162.7,887.3 2165.8,885.0 2168.3,882.8C2170.9,880.6 2173.4,878.1 2175.9,875.2C2178.4,872.3 2181.1,869.8 2183.6,865.6C2186.1,861.5 2189.1,853.6 2191.2,850.3C2193.3,847.0 2194.4,847.5 2196.3,845.9C2198.2,844.3 2200.4,844.0 2202.7,840.8C2205.0,837.6 2207.8,831.6 2210.3,826.8C2212.8,822.0 2215.6,817.2 2217.9,812.1C2220.2,807.0 2222.4,801.6 2224.3,796.2C2226.2,790.8 2227.7,784.3 2229.4,779.7C2231.1,775.1 2232.2,770.9 2234.5,768.8C2236.8,766.7 2240.4,768.3 2243.4,766.9C2246.4,765.5 2249.3,762.5 2252.3,760.6C2255.3,758.7 2258.2,757.5 2261.2,755.5C2264.2,753.5 2266.3,750.4 2270.1,748.5C2273.9,746.6 2280.3,743.7 2284.2,744.3C2288.1,744.9 2290.7,750.4 2293.4,752.2C2296.1,754.0 2298.1,753.3 2300.2,755.1C2302.3,756.9 2303.8,759.0 2306.1,762.9C2308.4,766.8 2311.5,773.1 2313.9,778.5C2316.3,783.9 2318.3,789.7 2320.7,795.1C2323.1,800.5 2325.9,806.0 2328.5,810.7C2331.1,815.4 2333.9,819.7 2336.3,823.3C2338.7,826.9 2340.8,830.2 2343.1,832.1C2345.4,834.0 2347.8,834.4 2349.9,834.6C2352.0,834.9 2353.5,834.3 2355.8,833.6C2358.1,832.9 2360.8,831.2 2363.6,830.2C2366.4,829.2 2369.6,828.4 2372.4,827.7C2375.2,827.0 2377.1,826.7 2380.2,826.1C2383.2,825.5 2388.9,824.6 2390.7,824.3" fill="none" stroke="#e6007f" stroke-width="5.8" stroke-linejoin="round" stroke-linecap="round"/>
<g stroke="#1c1c1f" stroke-width="4" fill="none">
<line x1="119.5" y1="547" x2="119.5" y2="1145"/>
<line x1="2392.2" y1="201.7" x2="2392.2" y2="1145"/>
<line x1="117.5" y1="1098.6" x2="2394.2" y2="1098.6"/>
<line x1="1015.2" y1="797.5" x2="1015.2" y2="1145"/>
<line x1="1015.2" y1="771.2" x2="1015.2" y2="785.7"/>
<line x1="1533.1" y1="677.8" x2="1533.1" y2="1145"/>
<line x1="1533.1" y1="645" x2="1533.1" y2="664.5"/>
<line x1="1870.5" y1="615.9" x2="1870.5" y2="1145"/>
<line x1="1870.5" y1="581.9" x2="1870.5" y2="603"/>
<line x1="2284.2" y1="744.4" x2="2284.2" y2="1145"/>
<line x1="2284.2" y1="718.6" x2="2284.2" y2="733.8"/>
</g>
<circle cx="119.2" cy="868.4" r="11.8" fill="#fff"/><circle cx="119.2" cy="868.4" r="9" fill="#1c1c1f"/>
<circle cx="2390.7" cy="824.3" r="11.8" fill="#fff"/><circle cx="2390.7" cy="824.3" r="9" fill="#1c1c1f"/>
<circle cx="1015.2" cy="797.5" r="11.8" fill="#fff"/><circle cx="1015.2" cy="797.5" r="9" fill="#1c1c1f"/>
<use href="#kom" x="1015.5" y="1034.5"/>
<circle cx="1533.1" cy="677.8" r="11.8" fill="#fff"/><circle cx="1533.1" cy="677.8" r="9" fill="#1c1c1f"/>
<use href="#kom" x="1533.3999999999999" y="1034.5"/>
<circle cx="1870.5" cy="615.9" r="11.8" fill="#fff"/><circle cx="1870.5" cy="615.9" r="9" fill="#1c1c1f"/>
<use href="#kom" x="1870.8" y="1034.5"/>
<circle cx="2284.2" cy="744.4" r="11.8" fill="#fff"/><circle cx="2284.2" cy="744.4" r="9" fill="#1c1c1f"/>
<use href="#kom" x="2284.5" y="1034.5"/>
<g transform="translate(185.7,823.6) rotate(-90)" fill="#4b4b4e"><text id="t1" font-size="36" word-spacing="5" textLength="223.2" lengthAdjust="spacingAndGlyphs">346 - Quercegrossa</text><use href="#t1" x="0.3"/><use href="#t1" x="-0.3"/></g>
<g transform="translate(301.6,765.0) rotate(-90)" fill="#4b4b4e"><text id="t2" font-size="36" word-spacing="5" textLength="290.5" lengthAdjust="spacingAndGlyphs">565 - Castellina in Chianti</text><use href="#t2" x="0.3"/><use href="#t2" x="-0.3"/></g>
<g transform="translate(380.3,813.5) rotate(-90)" fill="#4b4b4e"><text id="t3" font-size="36" word-spacing="5" textLength="335.2" lengthAdjust="spacingAndGlyphs">351 - Santa Maria a Grignano</text><use href="#t3" x="0.3"/><use href="#t3" x="-0.3"/></g>
<g transform="translate(452.6,787.2) rotate(-90)" fill="#4b4b4e"><text id="t4" font-size="36" word-spacing="5" textLength="273.0" lengthAdjust="spacingAndGlyphs">480 - Panzano in Chianti</text><use href="#t4" x="0.3"/><use href="#t4" x="-0.3"/></g>
<g transform="translate(520.4,853.7) rotate(-90)" fill="#4b4b4e"><text id="t5" font-size="36" word-spacing="5" textLength="245.5" lengthAdjust="spacingAndGlyphs">233 - Greve in Chianti</text><use href="#t5" x="0.3"/><use href="#t5" x="-0.3"/></g>
<g transform="translate(637.7,850.3) rotate(-90)" fill="#4b4b4e"><text id="t6" font-size="36" word-spacing="5" textLength="253.9" lengthAdjust="spacingAndGlyphs">247 - Strada in Chianti</text><use href="#t6" x="0.3"/><use href="#t6" x="-0.3"/></g>
<g transform="translate(728.5,880.0) rotate(-90)" fill="#4b4b4e"><text id="t7" font-size="36" word-spacing="5" textLength="148.1" lengthAdjust="spacingAndGlyphs">90 - Grassina</text><use href="#t7" x="0.3"/><use href="#t7" x="-0.3"/></g>
<g transform="translate(799.0,901.0) rotate(-90)" fill="#4b4b4e"><text id="t8" font-size="36" word-spacing="5" textLength="129.4" lengthAdjust="spacingAndGlyphs">55 - Firenze</text><use href="#t8" x="0.3"/><use href="#t8" x="-0.3"/></g>
<g transform="translate(875.4,901.0) rotate(-90)" fill="#4b4b4e"><text id="t9" font-size="36" word-spacing="5" textLength="122.0" lengthAdjust="spacingAndGlyphs">56 - Rifredi</text><use href="#t9" x="0.3"/><use href="#t9" x="-0.3"/></g>
<g transform="translate(935.4,894.2) rotate(-90)" fill="#4b4b4e"><text id="t10" font-size="36" word-spacing="5" textLength="235.8" lengthAdjust="spacingAndGlyphs">83 - Sesto Fiorentino</text><use href="#t10" x="0.3"/><use href="#t10" x="-0.3"/></g>
<g transform="translate(977.6,807.3) rotate(-90)" fill="#4b4b4e"><text id="t11" font-size="36" word-spacing="5" textLength="140.0" lengthAdjust="spacingAndGlyphs">314 - Collina</text><use href="#t11" x="0.3"/><use href="#t11" x="-0.3"/></g>
<g transform="translate(1134.7,788.0) rotate(-90)" fill="#4b4b4e"><text id="t12" font-size="36" word-spacing="5" textLength="164.2" lengthAdjust="spacingAndGlyphs">476 - Pratolino</text><use href="#t12" x="0.3"/><use href="#t12" x="-0.3"/></g>
<g transform="translate(1186.7,780.6) rotate(-90)" fill="#4b4b4e"><text id="t13" font-size="36" word-spacing="5" textLength="215.8" lengthAdjust="spacingAndGlyphs">501 - Vetta le Croci</text><use href="#t13" x="0.3"/><use href="#t13" x="-0.3"/></g>
<g transform="translate(1308.8,897.4) rotate(-90)" fill="#4b4b4e"><text id="t14" font-size="36" word-spacing="5" textLength="137.7" lengthAdjust="spacingAndGlyphs">71 - Le Sieci</text><use href="#t14" x="0.3"/><use href="#t14" x="-0.3"/></g>
<g transform="translate(1363.4,894.0) rotate(-90)" fill="#4b4b4e"><text id="t15" font-size="36" word-spacing="5" textLength="293.5" lengthAdjust="spacingAndGlyphs">84 - Svinc. di Pontassieve</text><use href="#t15" x="0.3"/><use href="#t15" x="-0.3"/></g>
<g transform="translate(1477.6,708.0) rotate(-90)" fill="#4b4b4e"><text id="t16" font-size="36" word-spacing="5" textLength="147.6" lengthAdjust="spacingAndGlyphs">737 - Borselli</text><use href="#t16" x="0.3"/><use href="#t16" x="-0.3"/></g>
<g transform="translate(1650.6,731.4) rotate(-90)" fill="#4b4b4e"><text id="t17" font-size="36" word-spacing="5" textLength="195.0" lengthAdjust="spacingAndGlyphs">498 - Bv. per Stia</text><use href="#t17" x="0.3"/><use href="#t17" x="-0.3"/></g>
<g transform="translate(1710.6,780.8) rotate(-90)" fill="#4b4b4e"><text id="t18" font-size="36" word-spacing="5" textLength="107.4" lengthAdjust="spacingAndGlyphs">471 - Stia</text><use href="#t18" x="0.3"/><use href="#t18" x="-0.3"/></g>
<g transform="translate(2028.5,766.0) rotate(-90)" fill="#4b4b4e"><text id="t19" font-size="36" word-spacing="5" textLength="157.0" lengthAdjust="spacingAndGlyphs">555 - Corniolo</text><use href="#t19" x="0.3"/><use href="#t19" x="-0.3"/></g>
<g transform="translate(2070.7,804.6) rotate(-90)" fill="#4b4b4e"><text id="t20" font-size="36" word-spacing="5" textLength="145.5" lengthAdjust="spacingAndGlyphs">414 - Berleta</text><use href="#t20" x="0.3"/><use href="#t20" x="-0.3"/></g>
<g transform="translate(2137.7,826.2) rotate(-90)" fill="#4b4b4e"><text id="t21" font-size="36" word-spacing="5" textLength="117.4" lengthAdjust="spacingAndGlyphs">334 - Isola</text><use href="#t21" x="0.3"/><use href="#t21" x="-0.3"/></g>
<g transform="translate(2176.1,838.5) rotate(-90)" fill="#4b4b4e"><text id="t22" font-size="36" word-spacing="5" textLength="193.9" lengthAdjust="spacingAndGlyphs">257 - Santa Sofia</text><use href="#t22" x="0.3"/><use href="#t22" x="-0.3"/></g>
<g transform="translate(2213.2,786.8) rotate(-90)" fill="#4b4b4e"><text id="t23" font-size="36" word-spacing="5" textLength="141.1" lengthAdjust="spacingAndGlyphs">449 - Raggio</text><use href="#t23" x="0.3"/><use href="#t23" x="-0.3"/></g>
<g transform="translate(2254.1,713.0) rotate(-90)" fill="#4b4b4e"><text id="t24" font-size="36" word-spacing="5" textLength="174.5" lengthAdjust="spacingAndGlyphs">691 - Montriolo</text><use href="#t24" x="0.3"/><use href="#t24" x="-0.3"/></g>
<g transform="translate(2368.4,784.4) rotate(-90)" fill="#4b4b4e"><text id="t25" font-size="36" word-spacing="5" textLength="279.4" lengthAdjust="spacingAndGlyphs">456 - San Piero in Bagno</text><use href="#t25" x="0.3"/><use href="#t25" x="-0.3"/></g>
<g transform="translate(1028.6,755.0) rotate(-90)" fill="#1c1c1f"><text id="t26" font-size="38" font-weight="bold"><tspan x="-0.7" textLength="42.6" lengthAdjust="spacingAndGlyphs">598</tspan> <tspan x="49.9" textLength="10.2" lengthAdjust="spacingAndGlyphs">-</tspan> <tspan x="68.6" textLength="92.6" lengthAdjust="spacingAndGlyphs">MONTE</tspan> <tspan x="166.9" textLength="121.2" lengthAdjust="spacingAndGlyphs">MORELLO</tspan></text><use href="#t26" x="0.65"/><use href="#t26" x="-0.65"/></g>
<g transform="translate(1546.5,627.7) rotate(-90)" fill="#1c1c1f"><text id="t27" font-size="38" font-weight="bold"><tspan x="-1.2" textLength="56.5" lengthAdjust="spacingAndGlyphs">1060</tspan> <tspan x="65.8" textLength="9.4" lengthAdjust="spacingAndGlyphs">-</tspan> <tspan x="84.9" textLength="82.0" lengthAdjust="spacingAndGlyphs">PASSO</tspan> <tspan x="176.9" textLength="75.5" lengthAdjust="spacingAndGlyphs">DELLA</tspan> <tspan x="263.6" textLength="131.8" lengthAdjust="spacingAndGlyphs">CONSUMA</tspan></text><use href="#t27" x="0.65"/><use href="#t27" x="-0.65"/></g>
<g transform="translate(1883.9,565.2) rotate(-90)" fill="#1c1c1f"><text id="t28" font-size="38" font-weight="bold"><tspan x="-0.2" textLength="57.8" lengthAdjust="spacingAndGlyphs">1295</tspan> <tspan x="68.1" textLength="9.6" lengthAdjust="spacingAndGlyphs">-</tspan> <tspan x="87.3" textLength="82.3" lengthAdjust="spacingAndGlyphs">PASSO</tspan> <tspan x="178.6" textLength="75.0" lengthAdjust="spacingAndGlyphs">DELLA</tspan> <tspan x="264.1" textLength="79.5" lengthAdjust="spacingAndGlyphs">CALLA</tspan></text><use href="#t28" x="0.65"/><use href="#t28" x="-0.65"/></g>
<g transform="translate(2297.6,701.5) rotate(-90)" fill="#1c1c1f"><text id="t29" font-size="38" font-weight="bold"><tspan x="-0.9" textLength="40.9" lengthAdjust="spacingAndGlyphs">770</tspan> <tspan x="49.1" textLength="9.2" lengthAdjust="spacingAndGlyphs">-</tspan> <tspan x="67.2" textLength="82.6" lengthAdjust="spacingAndGlyphs">PASSO</tspan> <tspan x="158.9" textLength="45.5" lengthAdjust="spacingAndGlyphs">DEL</tspan> <tspan x="214.2" textLength="118.1" lengthAdjust="spacingAndGlyphs">CARNAIO</tspan></text><use href="#t29" x="0.65"/><use href="#t29" x="-0.65"/></g>
<g transform="translate(186.1,1194.3) rotate(-90)" fill="#3f3f42"><text id="t30" font-size="36" word-spacing="5" textLength="34.1" lengthAdjust="spacingAndGlyphs">4.9</text><use href="#t30" x="0.3"/><use href="#t30" x="-0.3"/></g>
<g transform="translate(302.0,1208.2) rotate(-90)" fill="#3f3f42"><text id="t31" font-size="36" word-spacing="5" textLength="48.0" lengthAdjust="spacingAndGlyphs">15.6</text><use href="#t31" x="0.3"/><use href="#t31" x="-0.3"/></g>
<g transform="translate(380.7,1208.2) rotate(-90)" fill="#3f3f42"><text id="t32" font-size="36" word-spacing="5" textLength="48.0" lengthAdjust="spacingAndGlyphs">22.9</text><use href="#t32" x="0.3"/><use href="#t32" x="-0.3"/></g>
<g transform="translate(453.0,1208.2) rotate(-90)" fill="#3f3f42"><text id="t33" font-size="36" word-spacing="5" textLength="48.0" lengthAdjust="spacingAndGlyphs">29.5</text><use href="#t33" x="0.3"/><use href="#t33" x="-0.3"/></g>
<g transform="translate(520.8,1208.2) rotate(-90)" fill="#3f3f42"><text id="t34" font-size="36" word-spacing="5" textLength="48.0" lengthAdjust="spacingAndGlyphs">35.8</text><use href="#t34" x="0.3"/><use href="#t34" x="-0.3"/></g>
<g transform="translate(638.1,1208.2) rotate(-90)" fill="#3f3f42"><text id="t35" font-size="36" word-spacing="5" textLength="48.0" lengthAdjust="spacingAndGlyphs">46.5</text><use href="#t35" x="0.3"/><use href="#t35" x="-0.3"/></g>
<g transform="translate(728.9,1208.2) rotate(-90)" fill="#3f3f42"><text id="t36" font-size="36" word-spacing="5" textLength="48.0" lengthAdjust="spacingAndGlyphs">54.9</text><use href="#t36" x="0.3"/><use href="#t36" x="-0.3"/></g>
<g transform="translate(799.4,1208.2) rotate(-90)" fill="#3f3f42"><text id="t37" font-size="36" word-spacing="5" textLength="48.0" lengthAdjust="spacingAndGlyphs">61.4</text><use href="#t37" x="0.3"/><use href="#t37" x="-0.3"/></g>
<g transform="translate(875.8,1208.2) rotate(-90)" fill="#3f3f42"><text id="t38" font-size="36" word-spacing="5" textLength="48.0" lengthAdjust="spacingAndGlyphs">68.4</text><use href="#t38" x="0.3"/><use href="#t38" x="-0.3"/></g>
<g transform="translate(935.8,1208.2) rotate(-90)" fill="#3f3f42"><text id="t39" font-size="36" word-spacing="5" textLength="48.0" lengthAdjust="spacingAndGlyphs">73.9</text><use href="#t39" x="0.3"/><use href="#t39" x="-0.3"/></g>
<g transform="translate(978.0,1208.2) rotate(-90)" fill="#3f3f42"><text id="t40" font-size="36" word-spacing="5" textLength="48.0" lengthAdjust="spacingAndGlyphs">77.8</text><use href="#t40" x="0.3"/><use href="#t40" x="-0.3"/></g>
<g transform="translate(1135.1,1208.2) rotate(-90)" fill="#3f3f42"><text id="t41" font-size="36" word-spacing="5" textLength="48.0" lengthAdjust="spacingAndGlyphs">92.2</text><use href="#t41" x="0.3"/><use href="#t41" x="-0.3"/></g>
<g transform="translate(1187.1,1208.2) rotate(-90)" fill="#3f3f42"><text id="t42" font-size="36" word-spacing="5" textLength="48.0" lengthAdjust="spacingAndGlyphs">97.0</text><use href="#t42" x="0.3"/><use href="#t42" x="-0.3"/></g>
<g transform="translate(1309.2,1222.1) rotate(-90)" fill="#3f3f42"><text id="t43" font-size="36" word-spacing="5" textLength="61.9" lengthAdjust="spacingAndGlyphs">108.2</text><use href="#t43" x="0.3"/><use href="#t43" x="-0.3"/></g>
<g transform="translate(1363.8,1222.1) rotate(-90)" fill="#3f3f42"><text id="t44" font-size="36" word-spacing="5" textLength="61.9" lengthAdjust="spacingAndGlyphs">113.3</text><use href="#t44" x="0.3"/><use href="#t44" x="-0.3"/></g>
<g transform="translate(1478.0,1222.1) rotate(-90)" fill="#3f3f42"><text id="t45" font-size="36" word-spacing="5" textLength="61.9" lengthAdjust="spacingAndGlyphs">123.8</text><use href="#t45" x="0.3"/><use href="#t45" x="-0.3"/></g>
<g transform="translate(1651.0,1222.1) rotate(-90)" fill="#3f3f42"><text id="t46" font-size="36" word-spacing="5" textLength="61.9" lengthAdjust="spacingAndGlyphs">139.7</text><use href="#t46" x="0.3"/><use href="#t46" x="-0.3"/></g>
<g transform="translate(1711.0,1222.1) rotate(-90)" fill="#3f3f42"><text id="t47" font-size="36" word-spacing="5" textLength="61.9" lengthAdjust="spacingAndGlyphs">145.2</text><use href="#t47" x="0.3"/><use href="#t47" x="-0.3"/></g>
<g transform="translate(2028.9,1222.1) rotate(-90)" fill="#3f3f42"><text id="t48" font-size="36" word-spacing="5" textLength="61.9" lengthAdjust="spacingAndGlyphs">174.5</text><use href="#t48" x="0.3"/><use href="#t48" x="-0.3"/></g>
<g transform="translate(2071.1,1222.1) rotate(-90)" fill="#3f3f42"><text id="t49" font-size="36" word-spacing="5" textLength="61.9" lengthAdjust="spacingAndGlyphs">178.3</text><use href="#t49" x="0.3"/><use href="#t49" x="-0.3"/></g>
<g transform="translate(2138.1,1222.1) rotate(-90)" fill="#3f3f42"><text id="t50" font-size="36" word-spacing="5" textLength="61.9" lengthAdjust="spacingAndGlyphs">184.5</text><use href="#t50" x="0.3"/><use href="#t50" x="-0.3"/></g>
<g transform="translate(2176.5,1222.1) rotate(-90)" fill="#3f3f42"><text id="t51" font-size="36" word-spacing="5" textLength="61.9" lengthAdjust="spacingAndGlyphs">188.0</text><use href="#t51" x="0.3"/><use href="#t51" x="-0.3"/></g>
<g transform="translate(2213.6,1222.1) rotate(-90)" fill="#3f3f42"><text id="t52" font-size="36" word-spacing="5" textLength="61.9" lengthAdjust="spacingAndGlyphs">191.4</text><use href="#t52" x="0.3"/><use href="#t52" x="-0.3"/></g>
<g transform="translate(2260.1,1222.1) rotate(-90)" fill="#3f3f42"><text id="t53" font-size="36" word-spacing="5" textLength="61.9" lengthAdjust="spacingAndGlyphs">195.7</text><use href="#t53" x="0.3"/><use href="#t53" x="-0.3"/></g>
<g transform="translate(2368.8,1222.1) rotate(-90)" fill="#3f3f42"><text id="t54" font-size="36" word-spacing="5" textLength="61.9" lengthAdjust="spacingAndGlyphs">205.7</text><use href="#t54" x="0.3"/><use href="#t54" x="-0.3"/></g>
<g transform="translate(1028.6,1209.6) rotate(-90)" fill="#1c1c1f"><text id="t55" font-size="37" font-weight="bold" textLength="49.4" lengthAdjust="spacingAndGlyphs">82.4</text><use href="#t55" x="0.4"/><use href="#t55" x="-0.4"/></g>
<g transform="translate(1546.5,1223.9) rotate(-90)" fill="#1c1c1f"><text id="t56" font-size="37" font-weight="bold" textLength="63.7" lengthAdjust="spacingAndGlyphs">130.0</text><use href="#t56" x="0.4"/><use href="#t56" x="-0.4"/></g>
<g transform="translate(1883.9,1223.9) rotate(-90)" fill="#1c1c1f"><text id="t57" font-size="37" font-weight="bold" textLength="63.7" lengthAdjust="spacingAndGlyphs">161.0</text><use href="#t57" x="0.4"/><use href="#t57" x="-0.4"/></g>
<g transform="translate(2297.6,1223.9) rotate(-90)" fill="#1c1c1f"><text id="t58" font-size="37" font-weight="bold" textLength="63.7" lengthAdjust="spacingAndGlyphs">199.7</text><use href="#t58" x="0.4"/><use href="#t58" x="-0.4"/></g>
<g transform="translate(132.2,1195.3) rotate(-90)" fill="#1c1c1f"><text id="t59" font-size="37" font-weight="bold" textLength="35.1" lengthAdjust="spacingAndGlyphs">0.0</text><use href="#t59" x="0.4"/><use href="#t59" x="-0.4"/></g>
<g transform="translate(2405.7,1223.9) rotate(-90)" fill="#1c1c1f"><text id="t60" font-size="37" font-weight="bold" textLength="63.7" lengthAdjust="spacingAndGlyphs">209.0</text><use href="#t60" x="0.4"/><use href="#t60" x="-0.4"/></g>
<text x="103.0" y="1122.9" font-size="24.6" fill="#1d1d1f" textLength="10" lengthAdjust="spacingAndGlyphs">0</text>
<text x="217.4" y="1122.9" font-size="24.6" fill="#1d1d1f" textLength="21.8" lengthAdjust="spacingAndGlyphs">10</text>
<text x="326.7" y="1122.9" font-size="24.6" fill="#1d1d1f" textLength="21.8" lengthAdjust="spacingAndGlyphs">20</text>
<text x="437.1" y="1122.9" font-size="24.6" fill="#1d1d1f" textLength="21.8" lengthAdjust="spacingAndGlyphs">30</text>
<text x="543.2" y="1122.9" font-size="24.6" fill="#1d1d1f" textLength="21.8" lengthAdjust="spacingAndGlyphs">40</text>
<text x="656.1" y="1122.9" font-size="24.6" fill="#1d1d1f" textLength="21.8" lengthAdjust="spacingAndGlyphs">50</text>
<text x="759.8" y="1122.9" font-size="24.6" fill="#1d1d1f" textLength="21.8" lengthAdjust="spacingAndGlyphs">60</text>
<text x="871.0" y="1122.9" font-size="24.6" fill="#1d1d1f" textLength="21.8" lengthAdjust="spacingAndGlyphs">70</text>
<text x="980.1" y="1122.9" font-size="24.6" fill="#1d1d1f" textLength="21.8" lengthAdjust="spacingAndGlyphs">80</text>
<text x="1087.8" y="1122.9" font-size="24.6" fill="#1d1d1f" textLength="21.8" lengthAdjust="spacingAndGlyphs">90</text>
<text x="1198.5" y="1122.9" font-size="24.6" fill="#1d1d1f" textLength="32.5" lengthAdjust="spacingAndGlyphs">100</text>
<text x="1307.2" y="1122.9" font-size="24.6" fill="#1d1d1f" textLength="32.5" lengthAdjust="spacingAndGlyphs">110</text>
<text x="1417.2" y="1122.9" font-size="24.6" fill="#1d1d1f" textLength="32.5" lengthAdjust="spacingAndGlyphs">120</text>
<text x="1525.2" y="1122.9" font-size="24.6" fill="#1d1d1f" textLength="32.5" lengthAdjust="spacingAndGlyphs">130</text>
<text x="1631.8" y="1122.9" font-size="24.6" fill="#1d1d1f" textLength="32.5" lengthAdjust="spacingAndGlyphs">140</text>
<text x="1742.3" y="1122.9" font-size="24.6" fill="#1d1d1f" textLength="32.5" lengthAdjust="spacingAndGlyphs">150</text>
<text x="1850.3" y="1122.9" font-size="24.6" fill="#1d1d1f" textLength="32.5" lengthAdjust="spacingAndGlyphs">160</text>
<text x="1959.2" y="1122.9" font-size="24.6" fill="#1d1d1f" textLength="32.5" lengthAdjust="spacingAndGlyphs">170</text>
<text x="2066.9" y="1122.9" font-size="24.6" fill="#1d1d1f" textLength="32.5" lengthAdjust="spacingAndGlyphs">180</text>
<text x="2174.6" y="1122.9" font-size="24.6" fill="#1d1d1f" textLength="32.5" lengthAdjust="spacingAndGlyphs">190</text>
<text x="2284.2" y="1122.9" font-size="24.6" fill="#1d1d1f" textLength="32.5" lengthAdjust="spacingAndGlyphs">200</text>
<g stroke="#a9aaae" stroke-width="3.8" fill="none">
<polyline points="120.6,1251 120.6,1279.5 2392,1279.5 2392,1251"/>
<line x1="403.7" y1="1251" x2="403.7" y2="1279.5"/>
<line x1="1536.9" y1="1251" x2="1536.9" y2="1279.5"/>
<line x1="1876.9" y1="1251" x2="1876.9" y2="1279.5"/>
</g>
<text x="246.6" y="1268.3" font-size="38.2" fill="#a9aaae" textLength="21" lengthAdjust="spacingAndGlyphs">SI</text>
<text x="957.8" y="1268.3" font-size="38.2" fill="#a9aaae" textLength="18.3" lengthAdjust="spacingAndGlyphs">FI</text>
<text x="1695.2" y="1268.3" font-size="38.2" fill="#a9aaae" textLength="32.5" lengthAdjust="spacingAndGlyphs">AR</text>
<text x="2117.8" y="1268.3" font-size="38.2" fill="#a9aaae" textLength="28" lengthAdjust="spacingAndGlyphs">FC</text>
<text transform="translate(2429.2,1092.8) rotate(-90)" font-size="27" fill="#1c1c1f" stroke="#1c1c1f" stroke-width="2.3" stroke-linejoin="round" textLength="76.6" lengthAdjust="spacingAndGlyphs">SDS</text>
<path d="M36.5,543.4 H92 A10,10 0 0 1 102,553.4 V856 A37.75,37.75 0 0 1 26.5,856 V553.4 A10,10 0 0 1 36.5,543.4 Z" fill="#009a35"/>
<path d="M35,552 H93 V856 A29,29 0 0 1 35,856 Z" fill="url(#gL)"/>
<circle cx="64.2" cy="856" r="30" fill="url(#gG)" stroke="#1d1a21" stroke-width="3.6"/>
<g transform="translate(64.2,856)" fill="none" stroke="#fff" stroke-linecap="round" stroke-linejoin="round"><circle cx="-16.2" cy="9.1" r="6.65" stroke-width="3.45"/><circle cx="14.3" cy="9.1" r="6.65" stroke-width="3.45"/><ellipse cx="-3.6" cy="-11.8" rx="9.2" ry="4.6" transform="rotate(-8 -3.6 -11.8)" fill="#fff" stroke="none"/><circle cx="8.3" cy="-15.8" r="3.2" fill="#fff" stroke="none"/><path d="M4,-12.5 L14.2,-5.2" stroke-width="4"/><path d="M-9,-8.5 L0.5,-3.5 L-1.5,5" stroke-width="4.6"/><path d="M-7,-5 L-3.5,8.6 L-16.2,9.1 M-3.5,8.6 L9.6,-4.6 M-7.5,-3.2 L10,-5 L14.3,9.1" stroke-width="2.5"/><circle cx="-3.5" cy="8.6" r="2.6" fill="#fff" stroke="none"/></g>
<g transform="translate(79.9,808.8) rotate(-90)" fill="#1c1c1f"><text id="t61" font-size="48" font-weight="bold"><tspan x="-1.7" textLength="75.3" lengthAdjust="spacingAndGlyphs">349</tspan> <tspan x="86.6" textLength="14.5" lengthAdjust="spacingAndGlyphs">-</tspan> <tspan x="113.9" textLength="126.5" lengthAdjust="spacingAndGlyphs">SIENA</tspan></text><use href="#t61" x="0.6"/><use href="#t61" x="-0.6"/></g>
<path d="M2421.7,198.7 H2477.3 A10,10 0 0 1 2487.3,208.7 V813.7 A37.8,37.8 0 0 1 2411.7,813.7 V208.7 A10,10 0 0 1 2421.7,198.7 Z" fill="#e60004"/>
<path d="M2420.2,207.2 H2478.7 V813.7 A29.25,29.25 0 0 1 2420.2,813.7 Z" fill="url(#gR)"/>
<circle cx="2449.5" cy="812.8" r="28.6" fill="url(#gRd)" stroke="#1b1e24" stroke-width="3.8"/>
<g transform="translate(2449.5,812.8)" fill="none" stroke="#fff" stroke-linecap="round" stroke-linejoin="round"><circle cx="-14.6" cy="11.3" r="6.95" stroke-width="3.9"/><circle cx="13.9" cy="11.3" r="6.95" stroke-width="3.9"/><path d="M-3.2,-28 L-0.6,-24.5 L1.6,-28.6 L4.4,-21.5 C4.6,-17 2,-14.5 -0.5,-12.5 C-3.5,-9 -3.5,-5 -3,-1.5 L-2.2,3 L-8.6,3 C-12.5,-3 -12.5,-9 -11,-13.5 C-10,-17 -10.8,-19 -10,-21.5 C-9,-24 -5.5,-24.5 -3.2,-28 Z" fill="#fff" stroke-width="1"/><path d="M-6.5,0 L-3,11 L-14.6,11.3 M-3,11 L9.6,-4.4 M-5.5,-0.5 L10.3,-4.6 L13.9,11.3 M-4,-1 L2,2 L-1,9" stroke-width="3"/><circle cx="10.6" cy="-5.3" r="2.6" fill="#fff" stroke="none"/><circle cx="-3" cy="11" r="2.6" fill="#fff" stroke="none"/></g>
<g transform="translate(2465.0,774.9) rotate(-90)" fill="#1c1c1f"><text id="t62" font-size="48" font-weight="bold"><tspan x="-0.9" textLength="73.9" lengthAdjust="spacingAndGlyphs">490</tspan> <tspan x="93.6" textLength="13.8" lengthAdjust="spacingAndGlyphs">-</tspan> <tspan x="116.2" textLength="151.2" lengthAdjust="spacingAndGlyphs">BAGNO</tspan> <tspan x="277.9" textLength="44.5" lengthAdjust="spacingAndGlyphs">DI</tspan> <tspan x="336.0" textLength="217.2" lengthAdjust="spacingAndGlyphs">ROMAGNA</tspan></text><use href="#t62" x="0.6"/><use href="#t62" x="-0.6"/></g>
</svg>
</body></html>
